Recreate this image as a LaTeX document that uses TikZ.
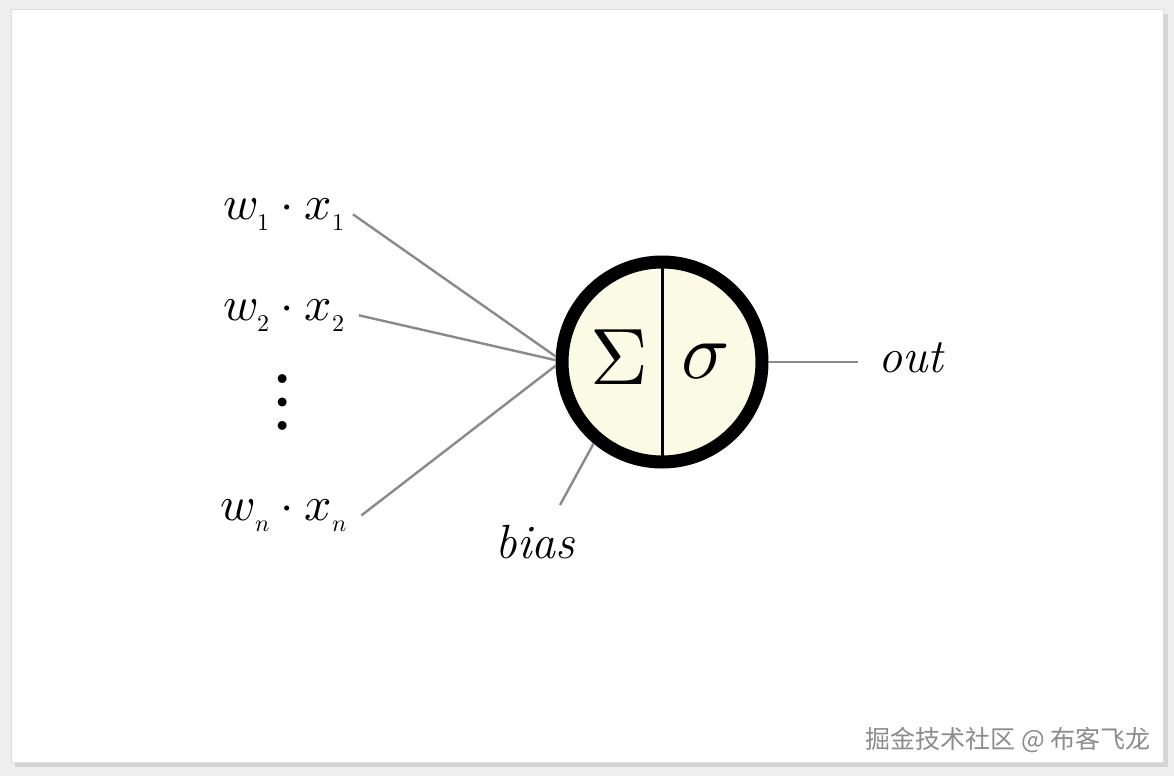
\documentclass[tikz,border=0pt]{standalone}
\usepackage{fontspec}
\usepackage{unicode-math}
\setmathfont{Latin Modern Math}
\newfontfamily\cjk{Noto Sans CJK SC}
\definecolor{bggray}{HTML}{EFEFEF}
\definecolor{shadowgray}{HTML}{D4D4D4}
\definecolor{edgegray}{HTML}{DDDDDD}
\definecolor{cream}{HTML}{FBFBE5}
\definecolor{linegray}{HTML}{8A8A8A}
\definecolor{wmgray}{HTML}{8C8C8C}
\newcommand{\sub}[1]{_{\scriptscriptstyle #1}}
\begin{document}
\begin{tikzpicture}[x=1pt,y=-1pt,
  lbl/.style={font=\fontsize{48}{56}\selectfont, inner ysep=0pt, inner xsep=8pt},
  conn/.style={draw=linegray, line width=2.4pt},
  neuron/.style={circle, draw=black, line width=13pt, fill=cream, minimum size=200pt, inner sep=0pt},
  symb/.style={font=\fontsize{80}{90}\selectfont, inner sep=0pt},
]
\useasboundingbox (0,0) rectangle (1174,776);
\fill[bggray] (0,0) rectangle (1174,776);
\fill[shadowgray] (15,14) rectangle (1168,767);
\fill[white, draw=edgegray, line width=1pt] (11,10) rectangle (1163,762);

% neuron
\node[neuron] (n) at (662,362) {};
\draw[line width=3pt] (n.center) ++(0,-100) -- ++(0,200);
\node[symb] (sum) at (619,357) {$\Sigma$};
\node[symb] (act) at (705,362) {$\sigma$};

% inputs
\node[lbl, anchor=base] (l1) at (284,219) {$w\sub{1}\cdot x\sub{1}$};
\node[lbl, anchor=base, inner xsep=14pt] (l2) at (284,320) {$w\sub{2}\cdot x\sub{2}$};
\node[lbl, font=\fontsize{84}{90}\selectfont] (dots) at (283,402) {$\vdots$};
\node[lbl, anchor=base, inner xsep=14pt] (ln) at (284,520) {$w\sub{n}\cdot x\sub{n}$};

\draw[conn] (l1.east) -- (n.177);
\draw[conn] (l2.east) -- (n.179);
\draw[conn] (ln.east) -- (n.182);

% bias
\node[lbl, anchor=base, inner xsep=0pt] (b) at (535,558) {\itshape bias};
\coordinate (bt) at (560,505);
\draw[conn] (bt) -- (n.230);

% output
\node[lbl, anchor=base west, inner xsep=20pt] (o) at (858,372) {\itshape out};
\draw[conn] (n.east) -- (n.east -| o.west);

% watermark
\node[font=\cjk\fontsize{25}{25}\selectfont, text=wmgray, inner sep=0pt] (wm) at (1008,740) {掘金技术社区 @ 布客飞龙};
\end{tikzpicture}
\end{document}
